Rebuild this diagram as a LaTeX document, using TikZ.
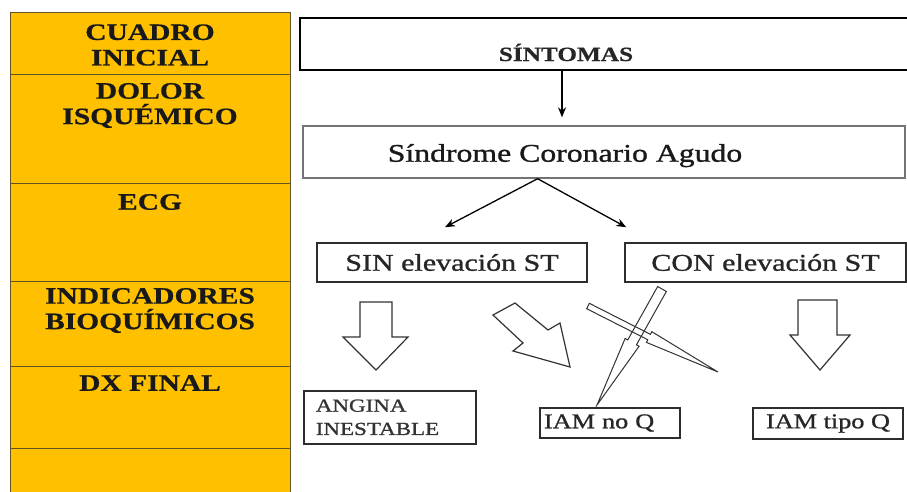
\documentclass[tikz,border=0pt]{standalone}
\usepackage{fontspec}
\setmainfont{Liberation Serif}[FakeStretch=1.25]
\newfontfamily\boldserif{Liberation Serif Bold}[FakeStretch=1.25, FakeBold=0.6]
\newfontfamily\medserif{Liberation Serif}[FakeStretch=1.25, FakeBold=1.1]
\usetikzlibrary{calc,arrows.meta}
\definecolor{colyellow}{RGB}{255,192,0}
\definecolor{colline}{RGB}{100,85,40}
\definecolor{boxline}{RGB}{45,45,45}
\tikzset{
  rowtext/.style={font=\boldserif\fontsize{23.6}{25.5}\selectfont, align=center, inner sep=0pt, text=black!90},
  boxframe/.style={draw=boxline, line width=1.6pt, fill=white, inner sep=0pt},
  conn/.style={draw=black, line width=1.3pt, -{Stealth[length=10pt,width=8pt]}},
  blockarrow/.style={draw=black!80, line width=1.2pt, fill=white, line join=miter},
  slim/.style={draw=black!80, line width=1pt, line join=miter},
}
\newcommand{\slimarrow}[5]{%
  \coordinate (sah) at ($(#1)!#5!(#2)$);
  \draw[slim] ($(#1)!#3!90:(#2)$) -- ($(sah)!#3!90:(#2)$) -- ($(sah)!#4!90:(#2)$) -- (#2)
    -- ($(sah)!#4!-90:(#2)$) -- ($(sah)!#3!-90:(#2)$) -- ($(#1)!#3!-90:(#2)$) -- cycle;}
\begin{document}
\begin{tikzpicture}[x=1pt,y=-1pt]
\useasboundingbox (0,0) rectangle (907,491);
\clip (0,0) rectangle (907,491);
\fill[white] (0,0) rectangle (907,491);
% left column
\draw[colline, line width=1pt, fill=colyellow] (10,12) rectangle (290,500);
\foreach \yy in {74,183,281,366,448} \draw[colline, line width=1pt] (10,\yy) -- (290,\yy);
\node[rowtext] (r1) at (150,45) {CUADRO\\INICIAL};
\node[rowtext] (r2) at (150,105.5) {DOLOR\\ISQUÉMICO};
\node[rowtext] (r3) at (150,202) {ECG};
\node[rowtext] (r4) at (150,310.5) {INDICADORES\\BIOQUÍMICOS};
\node[rowtext] (r5) at (150,383) {DX FINAL};
% top boxes
\node[draw=black, line width=2.2pt, minimum width=630pt, minimum height=52pt, inner sep=0pt] (sint) at (615,44) {};
\node[font=\boldserif\fontsize{20.2}{24}\selectfont, anchor=base, inner sep=0pt, text=black!85] (sintlbl) at (566,61) {SÍNTOMAS};
\node[draw=black!55, line width=1.4pt, minimum width=602pt, minimum height=52pt, inner sep=0pt] (sca) at (604,152) {};
\node[font=\medserif\fontsize{25.4}{30}\selectfont, anchor=base, inner sep=0pt, text=black!90] (scalbl) at (565,161.7) {Síndrome Coronario Agudo};
\coordinate (ax) at ([xshift=-4pt]sintlbl.center);
\draw[conn, shorten >=8pt] (sint.south -| ax) -- (sca.north -| ax);
% ECG boxes
\node[boxframe, minimum width=270pt, minimum height=39pt, font=\medserif\fontsize{24}{28}\selectfont, text=black!85] (sin) at (452,262.5) {SIN elevación ST};
\node[boxframe, minimum width=281pt, minimum height=39pt, font=\medserif\fontsize{24}{28}\selectfont, text=black!85] (con) at (765.5,262.5) {CON elevación ST};
\coordinate (fork) at ($(sca.south west)!0.39!(sca.south east)$);
\draw[conn] (fork) -- ([shift={(-7pt,15pt)}]sin.north);
\draw[conn] (fork) -- ([shift={(2pt,15pt)}]con.north west);
% block arrows
\draw[blockarrow] (360,302) -- (392,302) -- (392,337) -- (408,337) -- (376,370) -- (343,337) -- (360,337) -- cycle;
\draw[blockarrow] (798,300) -- (837,300) -- (837,335) -- (850,335) -- (820,370) -- (790,335) -- (798,335) -- cycle;
\draw[blockarrow] (493,315) -- (515,303) -- (548,330) -- (560,323) -- (570,367) -- (513,351) -- (523,343) -- cycle;
% slim crossing arrows
\coordinate (ta) at (662,289);
\coordinate (tb) at (597,405);
\slimarrow{ta}{tb}{5pt}{8pt}{0.46}
\coordinate (tc) at (588,306);
\coordinate (td) at (718,372);
\slimarrow{tc}{td}{3pt}{6pt}{0.47}
% final diagnosis boxes
\node[boxframe, anchor=north west, text width=148pt, inner xsep=12pt, inner ysep=0pt, minimum height=53pt, align=left, font=\medserif\fontsize{18.4}{23.3}\selectfont, text=black!80] (angina) at (303,390) {ANGINA\\INESTABLE};
\node[boxframe, text width=132pt, inner xsep=4pt, inner ysep=0pt, minimum height=30pt, align=left, font=\medserif\fontsize{21}{24}\selectfont, text=black!85] (iamnoq) at (610,423) {IAM no Q};
\node[boxframe, minimum width=150pt, minimum height=31pt, font=\medserif\fontsize{21}{24}\selectfont, text=black!85] (iamtq) at (828,423.5) {IAM tipo Q};
\end{tikzpicture}
\end{document}
